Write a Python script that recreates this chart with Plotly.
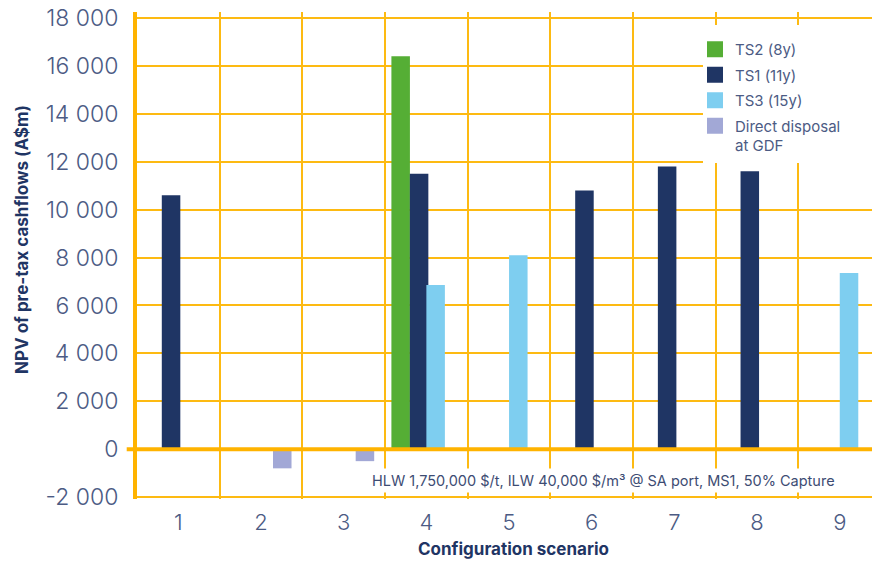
import plotly.graph_objects as go

categories = ["1", "2", "3", "4", "5", "6", "7", "8", "9"]
ts2_8y = [None, None, None, 16400, None, None, None, None, None]
ts1_11y = [10600, None, None, 11500, None, 10800, 11800, 11600, None]
ts3_15y = [None, None, None, 6850, 8100, None, None, None, 7350]
direct_disposal = [None, -800, -500, None, None, None, None, None, None]

series_names = ["TS2 (8y)", "TS1 (11y)", "TS3 (15y)", "Direct disposal<br>at GDF"]
series_values = [ts2_8y, ts1_11y, ts3_15y, direct_disposal]
series_colors = ["#55AE35", "#1F3564", "#7ECEF0", "#A2A8D6"]
series_offsets = [-0.423, -0.2, 0.0, 0.145]

y_tickvals = [-2000, 0, 2000, 4000, 6000, 8000, 10000, 12000, 14000, 16000, 18000]
y_ticktext = ["-2 000", "0", "2 000", "4 000", "6 000", "8 000", "10 000",
              "12 000", "14 000", "16 000", "18 000"]

x_title = "Configuration scenario"
y_title = "NPV of pre-tax cashflows (A$m)"
note = "HLW 1,750,000 $/t, ILW 40,000 $/m³ @ SA port, MS1, 50% Capture"

GRID = "#FDBA12"
TICK_COLOR = "#4C5B84"
TITLE_COLOR = "#1F3564"
FONT = "Inter, Open Sans, sans-serif"

fig = go.Figure()
for name, vals, col, off in zip(series_names, series_values, series_colors, series_offsets):
    fig.add_trace(go.Bar(x=categories, y=vals, marker=dict(color=col, line=dict(width=0)),
                         offset=off, width=0.224, showlegend=False, name=name))
# legend swatches
for i, (name, col) in enumerate(zip(series_names, series_colors)):
    fig.add_trace(go.Scatter(x=[None], y=[None], mode="markers", name=name,
                             legendgroup="g%d" % i,
                             marker=dict(symbol="square", size=18, color=col)))

PW, PH, L, B = 735, 487, 137, 499

fig.update_layout(
    width=872, height=562,
    margin=dict(l=137, r=0, t=12, b=63, autoexpand=False),
    plot_bgcolor="white", paper_bgcolor="white",
    barmode="overlay",
    font=dict(family=FONT, color=TICK_COLOR),
    legend=dict(x=(695 - L) / PW, y=(B - 33) / PH, xanchor="left", yanchor="top",
                bgcolor="rgba(0,0,0,0)", font=dict(size=15, color=TICK_COLOR, family=FONT),
                valign="top", itemsizing="trace", tracegroupgap=3,
                borderwidth=0, itemwidth=30),
    xaxis=dict(type="category", range=[-0.5, 8.39], tickson="boundaries",
               showgrid=True, gridcolor=GRID, gridwidth=1.5, ticks="",
               showline=False, zeroline=False, automargin=False,
               tickfont=dict(size=22, color=TICK_COLOR, family=FONT, weight=300),
               ticklabelstandoff=8),
    yaxis=dict(range=[-2080, 18250], tickvals=y_tickvals, ticktext=y_ticktext,
               showgrid=True, gridcolor=GRID, gridwidth=1.5, automargin=False,
               zeroline=False, showline=True, linecolor="#FFB300", linewidth=4,
               ticks="", ticklabelstandoff=10,
               tickfont=dict(size=23, color=TICK_COLOR, family=FONT, weight=300)),
    shapes=[
        dict(type="line", xref="paper", yref="y", x0=-0.014, x1=1, y0=0, y1=0,
             line=dict(color="#FFB300", width=4), layer="above"),
        dict(type="rect", xref="paper", yref="paper", x0=(703 - L) / PW, x1=1,
             y0=(B - 163) / PH, y1=(B - 25) / PH, fillcolor="white",
             line=dict(width=0), layer="above"),
    ],
    annotations=[
        dict(text=note, xref="paper", yref="paper", x=(603 - L) / PW, y=0.039,
             xanchor="center", yanchor="middle", showarrow=False,
             bgcolor="white", borderpad=3,
             font=dict(size=14.5, color="#3D4C73", family=FONT)),
        dict(text="<b>" + x_title + "</b>", xref="paper", yref="paper",
             x=(513 - L) / PW, y=(B - 549) / PH, xanchor="center", yanchor="middle",
             showarrow=False, font=dict(size=17, color=TITLE_COLOR, family=FONT)),
        dict(text="<b>" + y_title + "</b>", xref="paper", yref="paper", textangle=-90,
             x=(22 - L) / PW, y=(B - 240) / PH, xanchor="center", yanchor="middle",
             showarrow=False, font=dict(size=17, color=TITLE_COLOR, family=FONT)),
    ],
)

fig.write_html("out.html", config={"displayModeBar": False},
               post_script="document.body.style.margin='0px';document.body.style.overflow='hidden';")
